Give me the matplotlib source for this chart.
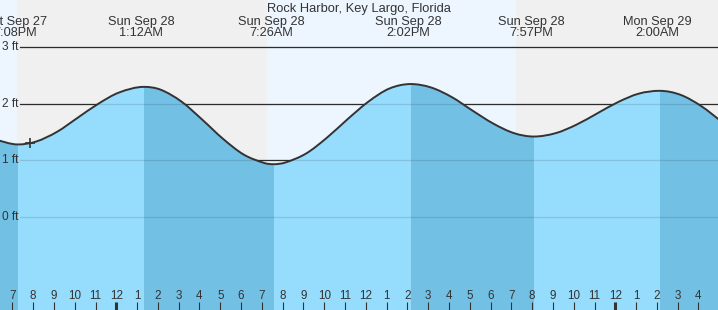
import matplotlib
matplotlib.use('Agg')
import matplotlib.pyplot as plt
from matplotlib.path import Path
from matplotlib.patches import PathPatch
import numpy as np

plt.rcParams['font.family'] = ['Liberation Sans', 'DejaVu Sans']

title = "Rock Harbor, Key Largo, Florida"

# time axis: hours relative to midnight at the start of Sun Sep 28
hour_times = list(range(-6, 30))
hour_heights = [1.37, 1.28, 1.33, 1.50, 1.75, 2.00, 2.20, 2.30, 2.25, 2.04,
                1.72, 1.38, 1.10, 0.95, 0.96, 1.12, 1.40, 1.73, 2.04, 2.27,
                2.35, 2.29, 2.12, 1.88, 1.65, 1.48, 1.42, 1.48, 1.63, 1.83,
                2.03, 2.18, 2.23, 2.16, 1.96, 1.68]

extreme_times = [-4.867, 1.2, 7.433, 14.033, 19.95, 26.0]
extreme_heights = [1.28, 2.30, 0.93, 2.35, 1.42, 2.23]
extreme_days = ['Sat Sep 27', 'Sun Sep 28', 'Sun Sep 28', 'Sun Sep 28',
                'Sun Sep 28', 'Mon Sep 29']
extreme_clock = ['7:08PM', '1:12AM', '7:26AM', '2:02PM', '7:57PM', '2:00AM']

sunset_1 = -4.923
sunrise_1 = 7.102
sunset_2 = 19.108

now_time = -4.28
now_height = 1.30

y_levels = [0, 1, 2, 3]
y_labels = ['0 ft', '1 ft', '2 ft', '3 ft']

hour_ticks = list(range(-5, 29))
hour_labels = ['7', '8', '9', '10', '11', '12', '1', '2', '3', '4', '5', '6',
               '7', '8', '9', '10', '11', '12', '1', '2', '3', '4', '5', '6',
               '7', '8', '9', '10', '11', '12', '1', '2', '3', '4']
midnights = [0, 24]

# ---- styling ----
W, H = 718, 310
XLIM = (-5.726, 28.81)
YLIM = (-1.653, 3.839)
label_shift = -0.13  # tick/label placement offset (hours)
C_DAY = '#EDF6FE'
C_NIGHT = '#F0F0F0'
C_WATER_L = '#96DCFD'
C_WATER_D = '#73C0E5'
C_TEXT = '#333333'

fig = plt.figure(figsize=(W / 100, H / 100), dpi=100)
ax = fig.add_axes([0, 0, 1, 1])
ax.set_xlim(*XLIM)
ax.set_ylim(*YLIM)
ax.axis('off')

# background day / night
ax.axvspan(XLIM[0], sunset_1, color=C_DAY, zorder=0, lw=0)
ax.axvspan(sunset_1, sunrise_1, color=C_NIGHT, zorder=0, lw=0)
ax.axvspan(sunrise_1, sunset_2, color=C_DAY, zorder=0, lw=0)
ax.axvspan(sunset_2, XLIM[1], color=C_NIGHT, zorder=0, lw=0)

# grid lines (above water: dark)
gx0 = 20 / W
for lv in y_levels:
    ax.axhline(lv, xmin=gx0, xmax=1, color=C_TEXT, lw=0.9, zorder=1)

# merged series: extremes plus hourly readings not too close to an extreme
pts = {}
for ht, hh in zip(hour_times, hour_heights):
    if min(abs(ht - e) for e in extreme_times) > 0.25:
        pts[float(ht)] = (hh, False)
for et, eh in zip(extreme_times, extreme_heights):
    pts[float(et)] = (eh, True)
keys = sorted(pts.keys())
t = np.array(keys)
h = np.array([pts[k][0] for k in keys])
is_ext = np.array([pts[k][1] for k in keys])

# tangents for a smooth (Hermite) curve drawn as Bezier path
n = len(t)
m = np.zeros(n)
for i in range(n):
    if is_ext[i]:
        m[i] = 0.0
    elif i == 0:
        m[i] = (h[1] - h[0]) / (t[1] - t[0])
    elif i == n - 1:
        m[i] = (h[-1] - h[-2]) / (t[-1] - t[-2])
    else:
        m[i] = (h[i + 1] - h[i - 1]) / (t[i + 1] - t[i - 1])

verts = [(t[0], h[0])]
codes = [Path.MOVETO]
for i in range(n - 1):
    dt = t[i + 1] - t[i]
    verts += [(t[i] + dt / 3, h[i] + m[i] * dt / 3),
              (t[i + 1] - dt / 3, h[i + 1] - m[i + 1] * dt / 3),
              (t[i + 1], h[i + 1])]
    codes += [Path.CURVE4] * 3
line_path = Path(verts, codes)
water_path = Path(verts + [(t[-1], YLIM[0]), (t[0], YLIM[0]), (t[0], h[0])],
                  codes + [Path.LINETO, Path.LINETO, Path.CLOSEPOLY])

water = PathPatch(water_path, facecolor=C_WATER_L, lw=0, zorder=2)
ax.add_patch(water)

# darker water during falling tide (high -> low)
bounds = [t[0]] + extreme_times + [t[-1]]
for i in range(len(bounds) - 1):
    a, b = bounds[i], bounds[i + 1]
    if i < len(extreme_times):
        falling = extreme_heights[i] < (extreme_heights[i + 1] if i + 1 < len(extreme_heights)
                                        else extreme_heights[i - 1])
    else:
        falling = extreme_heights[-1] > extreme_heights[-2]
    if falling:
        sp = ax.axvspan(a, b, color=C_WATER_D, lw=0, zorder=2.1)
        sp.set_clip_path(water)

# grid lines under water (faint)
for lv in y_levels:
    ax.axhline(lv, xmin=gx0, xmax=1, color='black', alpha=0.12, lw=0.9, zorder=3)

# tide curve
ax.add_patch(PathPatch(line_path, fill=False, edgecolor=C_TEXT, lw=1.4, zorder=4))
ax.plot([now_time], [now_height], marker='+', ms=7, mew=1.2, color=C_TEXT, zorder=5)

# y labels
for lv, lab in zip(y_levels, y_labels):
    ax.annotate(lab, xy=(0, lv), xycoords=('axes fraction', 'data'),
                xytext=(19, 0), textcoords='offset pixels',
                ha='right', va='center', fontsize=8.6, color=C_TEXT, zorder=6)

# hour ticks
xt = ax.get_xaxis_transform()
tick_top = (H - 301.7) / H
for ht, lab in zip(hour_ticks, hour_labels):
    x = ht + label_shift
    lw = 2.2 if ht in midnights else 0.8
    ax.plot([x, x], [0, tick_top], transform=xt, color=C_TEXT, lw=lw,
            solid_capstyle='butt', zorder=6, clip_on=False)
    ax.text(x, (H - 299.3) / H, lab, transform=xt, ha='center', va='baseline',
            fontsize=8.4, color=C_TEXT, zorder=6)

# extreme labels
for et, d, c in zip(extreme_times, extreme_days, extreme_clock):
    x = et + label_shift
    ax.text(x, 1 - 25 / H, d, transform=xt, ha='center', va='baseline',
            fontsize=9.2, color=C_TEXT, zorder=6)
    ax.text(x, 1 - 36 / H, c, transform=xt, ha='center', va='baseline',
            fontsize=9.2, color=C_TEXT, zorder=6)

fig.text(0.5, 1 - 11.7 / H, title, ha='center', va='baseline',
         fontsize=9.3, color=C_TEXT)

fig.savefig('out.png', dpi=100)
